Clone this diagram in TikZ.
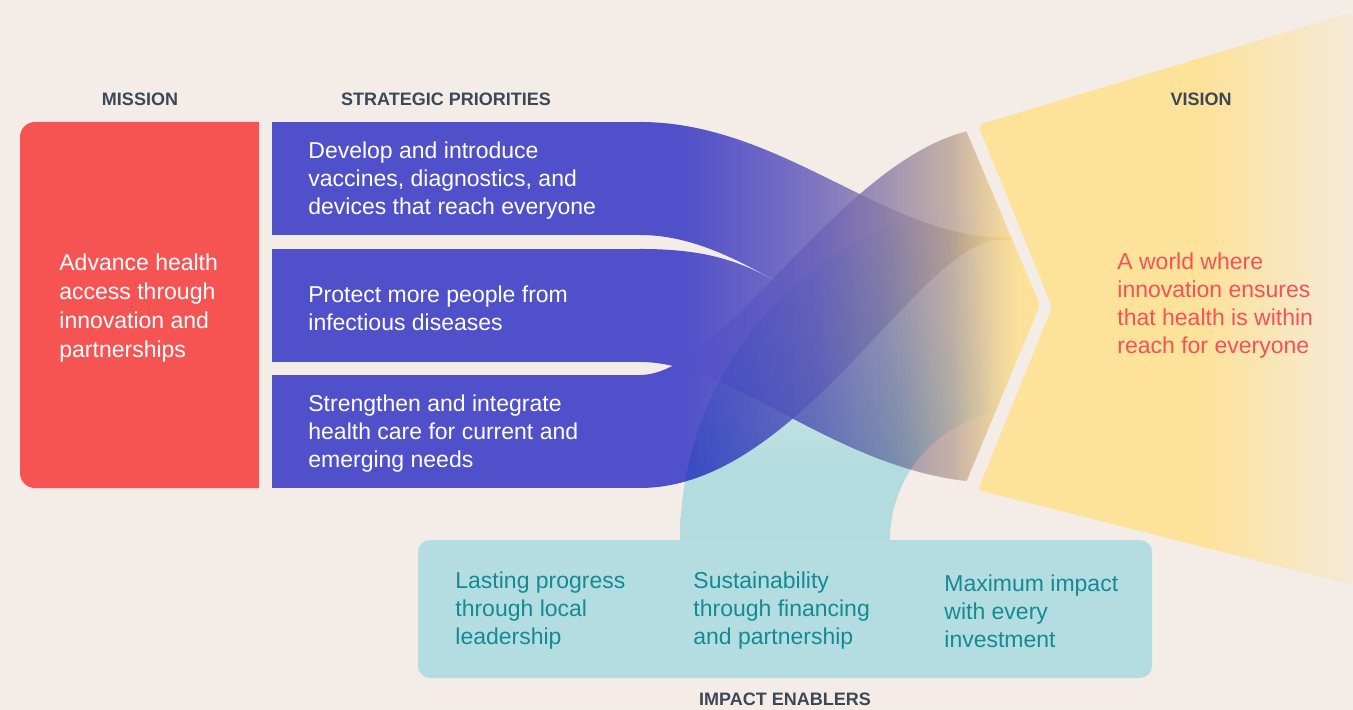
\documentclass[tikz,border=0pt]{standalone}
\usepackage{fontspec}
\setmainfont{Liberation Sans}
\usetikzlibrary{positioning,shadings,fadings}
\definecolor{BgCream}{HTML}{F4EDE7}
\definecolor{MissionRed}{HTML}{F65353}
\definecolor{PrioBlue}{HTML}{5050CA}
\definecolor{BandA}{HTML}{6C62BB}
\definecolor{BandB}{HTML}{877AA8}
\definecolor{BandC}{HTML}{B49A90}
\definecolor{BandD}{HTML}{E7C680}
\definecolor{BandEnd}{HTML}{FFDD79}
\definecolor{VisionYellow}{HTML}{FDE29A}
\definecolor{VisionPale}{HTML}{F5EAD8}
\definecolor{VisionRed}{HTML}{F4525A}
\definecolor{EnablerTeal}{HTML}{B4DDE2}
\definecolor{ArchTeal}{HTML}{BBEDF7}
\definecolor{EnablerText}{HTML}{148B93}
\definecolor{HeadGray}{HTML}{3D4757}
\pgfdeclarehorizontalshading{bandshade}{100bp}{color(0bp)=(PrioBlue); color(30bp)=(PrioBlue); color(38bp)=(PrioBlue!60!BandA); color(46bp)=(BandA); color(54bp)=(BandB); color(62bp)=(BandC); color(67bp)=(BandD); color(70bp)=(BandEnd); color(100bp)=(BandEnd)}
\pgfdeclarehorizontalshading{bandfadeshade}{100bp}{color(0bp)=(pgftransparent!0); color(30bp)=(pgftransparent!0); color(50bp)=(pgftransparent!18); color(66bp)=(pgftransparent!30); color(100bp)=(pgftransparent!30)}
\pgfdeclarefading{bandfade}{\pgfuseshading{bandfadeshade}}
\pgfdeclareverticalshading{archshade}{100bp}{color(0bp)=(ArchTeal); color(35bp)=(ArchTeal); color(56bp)=(ArchTeal!40!white); color(75bp)=(white); color(100bp)=(white)}
\pgfdeclarehorizontalshading{archfadeshade}{100bp}{color(0bp)=(pgftransparent!0); color(54bp)=(pgftransparent!0); color(67bp)=(pgftransparent!100); color(100bp)=(pgftransparent!100)}
\pgfdeclarefading{archfade}{\pgfuseshading{archfadeshade}}
\pgfdeclarehorizontalshading{visionshade}{100bp}{color(0bp)=(VisionYellow); color(55bp)=(VisionYellow); color(75bp)=(VisionPale); color(100bp)=(VisionPale)}
\tikzset{
    head/.style = {font=\fontsize{9}{11}\selectfont\bfseries, text=HeadGray},
    body/.style = {font=\fontsize{11.5}{14}\selectfont, align=left, inner sep=0pt, yshift=-1pt},
    prio box/.style = {fill=PrioBlue, minimum width=184.5pt,
        minimum height=56.5pt, inner sep=0pt, anchor=north west},
    enabler box/.style = {fill=EnablerTeal, rounded corners=6pt,
        minimum width=367pt, minimum height=69pt, inner sep=0pt},
    band/.style = {shading=bandshade, path fading=bandfade},
    arch/.style = {shading=archshade, path fading=archfade}
}

\begin{document}
\begin{tikzpicture}[x=0.5pt,y=-0.5pt]
  \useasboundingbox (0,0) rectangle (1353,710);
  \fill[BgCream] (0,0) rectangle (1353,710);
  % vision fan
  \shade[shading=visionshade, rounded corners=2pt] (978,125) -- (1353,12) -- (1353,585) -- (978,490) -- (1052,307) -- cycle;
  % flows into the vision
  \begin{scope}
    \clip[rounded corners=3pt] (600,0) -- (911,0) -- (965,128) -- (1040,305) -- (965,485) -- (871,710) -- (600,710) -- cycle;
    \shade[band] (640,122) .. controls (780,122) and (887,237) .. (1000,237) -- (1060,237)
      -- (1060,367) -- (1000,367) .. controls (853,367) and (760,235) .. (640,235) -- cycle;
    \shade[band] (640,249) .. controls (700,249) and (737,259) .. (776,281.5)
      .. controls (843,319.5) and (911.8,367) .. (1000,367) -- (1060,367)
      -- (1060,483) -- (1000,483) .. controls (847,483) and (740,362) .. (640,362) -- cycle;
    \shade[band] (640,375) .. controls (730,375) and (857,127) .. (1000,127) -- (1060,127)
      -- (1060,240) -- (1000,240) .. controls (920,240) and (800,488) .. (640,488) -- cycle;
    \begin{scope}[blend mode=multiply]
      \shade[arch] (680,540) arc[start angle=180, end angle=90, radius=170pt] -- (1060,200)
        -- (1060,410) -- (1020,410) arc[start angle=90, end angle=180, radius=65pt] -- cycle;
    \end{scope}
  \end{scope}
  % mission
  \begin{scope}
    \clip (0,0) rectangle (259,710);
    \fill[MissionRed, rounded corners=7.5pt] (20,122) rectangle (300,488);
  \end{scope}
  \coordinate (missionwest) at (20,306);
  \node[body, text=white, font=\fontsize{11.5}{14.6}\selectfont, anchor=west, right=19.5pt of missionwest] (mission)
    {Advance health\\access through\\innovation and\\partnerships};
  % strategic priorities
  \node[prio box] (prio1) at (272,122) {};
  \node[prio box] (prio2) at (272,249) {};
  \node[prio box] (prio3) at (272,375) {};
  \node[body, text=white, right=18pt of prio1.west] (develop)
    {Develop and introduce\\vaccines, diagnostics, and\\devices that reach everyone};
  \node[body, text=white, right=18pt of prio2.west] (protect)
    {Protect more people from\\infectious diseases};
  \node[body, text=white, right=18pt of prio3.west] (strengthen)
    {Strengthen and integrate\\health care for current and\\emerging needs};
  % impact enablers
  \node[enabler box] (enablers) at (785,609) {};
  \node[body, text=EnablerText, anchor=west] (lasting) at (455,609)
    {Lasting progress\\through local\\leadership};
  \node[body, text=EnablerText, anchor=west] (sustain) at (693,609)
    {Sustainability\\through financing\\and partnership};
  \node[body, text=EnablerText, anchor=west] (maximum) at (944,609)
    {Maximum impact\\with every\\investment};
  % vision
  \node[body, text=VisionRed, anchor=west] (world) at (1117,304)
    {A world where\\innovation ensures\\that health is within\\reach for everyone};
  % headings
  \node[head] (missionhead) at (140,99) {MISSION};
  \node[head] (priohead) at (446,99) {STRATEGIC PRIORITIES};
  \node[head] (visionhead) at (1201,99) {VISION};
  \node[head] (enablerhead) at (785,699) {IMPACT ENABLERS};
\end{tikzpicture}
\end{document}
